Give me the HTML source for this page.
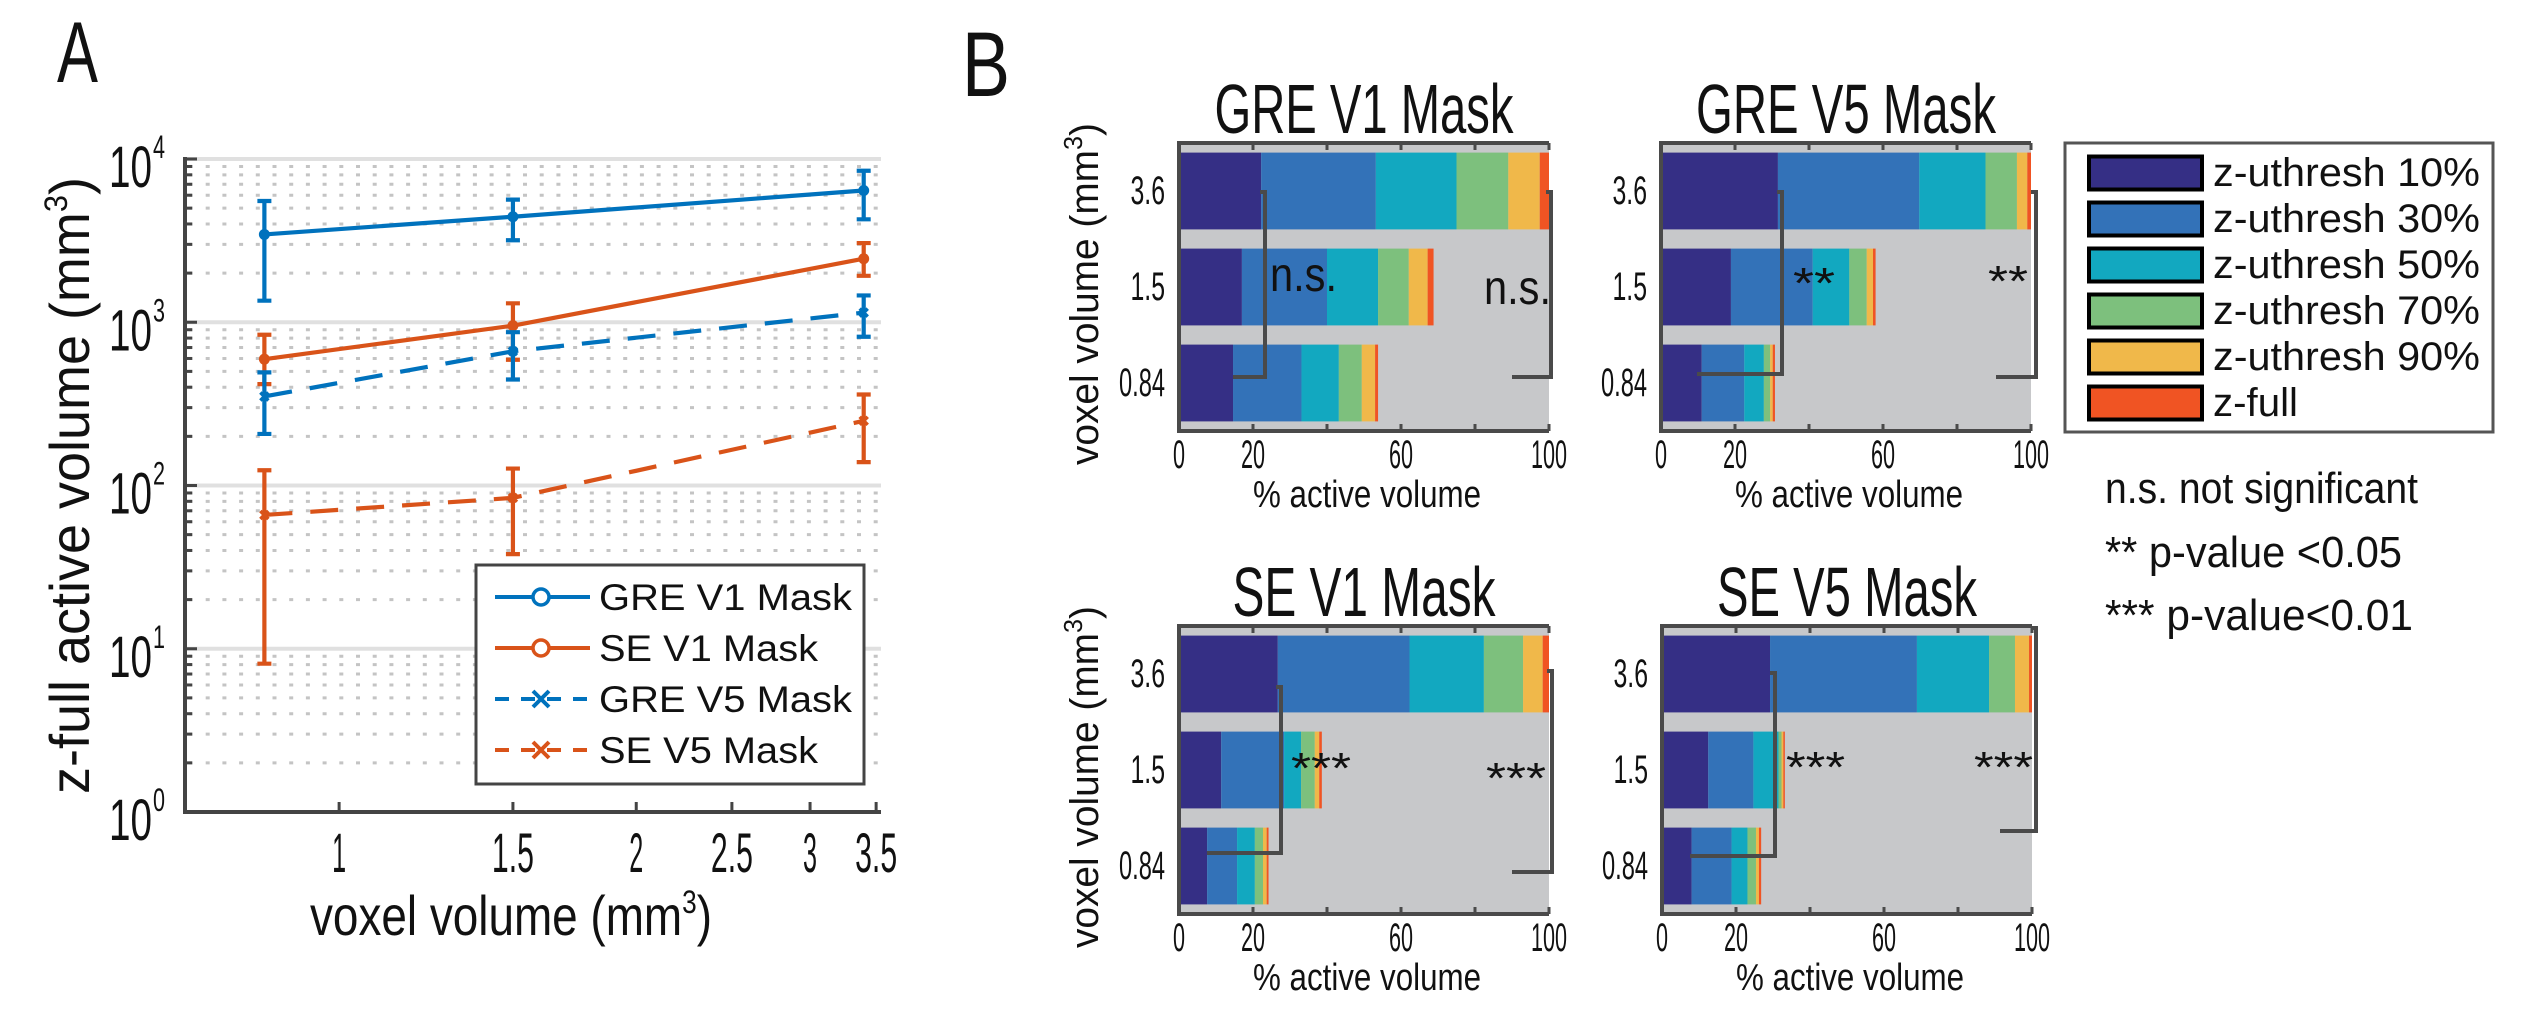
<!DOCTYPE html>
<html><head><meta charset="utf-8">
<style>
html,body{margin:0;padding:0;background:#fff;}
svg{display:block;}
text{font-family:"Liberation Sans",sans-serif;fill:#111;}
</style></head>
<body>
<svg id="fig" width="2521" height="1025" viewBox="0 0 2521 1025" xmlns="http://www.w3.org/2000/svg">
<g id="panelA"></g>
<g id="panelB"></g>
</svg>
<script>
// ---------- Panel A data ----------
const voxelSizes = [0.84, 1.5, 3.4];
const seriesNames = ["GRE V1 Mask", "SE V1 Mask", "GRE V5 Mask", "SE V5 Mask"];
const greV1 = [3450, 4430, 6410];
const greV1Hi = [5530, 5640, 8470];
const greV1Lo = [1355, 3180, 4270];
const seV1 = [594, 953, 2450];
const seV1Hi = [838, 1306, 3055];
const seV1Lo = [418, 589, 1925];
const greV5 = [351, 664, 1146];
const greV5Hi = [493, 869, 1460];
const greV5Lo = [207, 446, 815];
const seV5 = [66, 84, 249];
const seV5Hi = [124, 127, 361];
const seV5Lo = [8.1, 38, 139];
const xTickValues = [1, 1.5, 2, 2.5, 3, 3.5];
const xTickLabels = ["1", "1.5", "2", "2.5", "3", "3.5"];
const yTickExps = [0, 1, 2, 3, 4];

// ---------- Panel B data ----------
const voxelCategories = ["3.6", "1.5", "0.84"];
const segmentNames = ["z-uthresh 10%", "z-uthresh 30%", "z-uthresh 50%", "z-uthresh 70%", "z-uthresh 90%", "z-full"];
const pctTicks = [0, 20, 40, 60, 80, 100];
const pctTickLabels = ["0", "20", "", "60", "", "100"];
const greV1Segs = [[22.2, 31, 21.8, 14, 8.5, 2.5], [17, 23, 13.8, 8.3, 5.1, 1.6], [14.6, 18.5, 10.1, 6.2, 3.6, 0.8]];
const greV5Segs = [[31.6, 38.2, 17.9, 8.5, 2.8, 1.0], [18.9, 22.1, 9.9, 4.7, 1.7, 0.7], [11, 11.5, 5.3, 1.7, 0.7, 0.6]];
const seV1Segs = [[26.7, 35.6, 20.1, 10.6, 5.3, 1.7], [11.4, 17, 4.6, 3.7, 1.2, 0.7], [7.6, 8.1, 4.8, 2.2, 1.0, 0.5]];
const seV5Segs = [[29.2, 39.7, 19.5, 7.0, 3.8, 0.8], [12.5, 12.2, 6.8, 0.8, 0.5, 0.4], [8, 10.8, 4.3, 2.3, 0.8, 0.6]];
const sigInner = ["n.s.", "**", "***", "***"];
const sigOuter = ["n.s.", "**", "***", "***"];

const NS = "http://www.w3.org/2000/svg";
function mk(parent, tag, attrs, txt) {
  const e = document.createElementNS(NS, tag);
  for (const k in attrs) e.setAttribute(k, attrs[k]);
  if (txt !== undefined) e.textContent = txt;
  parent.appendChild(e);
  return e;
}

// ================= PANEL A =================
const A = document.getElementById('panelA');
const aL = 185, aR = 881, aT = 159, aB = 812;
const xLogMin = Math.log10(0.698), xLogMax = Math.log10(3.54);
function ax(v) { return aL + (Math.log10(v) - xLogMin) / (xLogMax - xLogMin) * (aR - aL); }
function ay(v) { return aB - Math.log10(v) / 4 * (aB - aT); }

let t = mk(A, 'text', {x: 57, y: 82, 'font-size': 86, textLength: 41, lengthAdjust: 'spacingAndGlyphs'}, 'A');
 

const grid = mk(A, 'g', {});
 
for (let e = 0; e < 4; e++) {
  for (let m = 2; m <= 9; m++) {
    const y = ay(m * Math.pow(10, e));
    const l = mk(grid, 'line', {x1: aL + 4, x2: aR, y1: y, y2: y, stroke: '#c4c4c4', 'stroke-width': 3, 'stroke-dasharray': '4 12.7'});
     
  }
}
yTickExps.forEach(e => {
  const y = ay(Math.pow(10, e));
  if (e > 0) {
    const l = mk(grid, 'line', {x1: aL, x2: aR, y1: y, y2: y, stroke: '#e0e0e0', 'stroke-width': 4});
     
  }
  const g = mk(A, 'g', {});
   
  mk(g, 'text', {x: 109, y: y + 28, 'font-size': 58, textLength: 43, lengthAdjust: 'spacingAndGlyphs'}, '10');
  mk(g, 'text', {x: 153, y: y - 1, 'font-size': 32, textLength: 12, lengthAdjust: 'spacingAndGlyphs'}, String(e));
  if (e < 4) for (let m = 2; m <= 9; m++) {
    const yy = ay(m * Math.pow(10, e));
    mk(A, 'line', {x1: aL, x2: aL + 7, y1: yy, y2: yy, stroke: '#444', 'stroke-width': 3});
  }
  mk(A, 'line', {x1: aL, x2: aL + 12, y1: y, y2: y, stroke: '#444', 'stroke-width': 3});
});
let axl = mk(A, 'path', {d: `M${aL},${aT - 2} V${aB} H${aR}`, fill: 'none', stroke: '#444', 'stroke-width': 4});
 
xTickValues.forEach((v, i) => {
  const x = ax(v);
  mk(A, 'line', {x1: x, x2: x, y1: aB, y2: aB - 10, stroke: '#444', 'stroke-width': 3});
  const tl = mk(A, 'text', {x: x, y: 872, 'font-size': 56, 'text-anchor': 'middle', textLength: xTickLabels[i].length * 14, lengthAdjust: 'spacingAndGlyphs'}, xTickLabels[i]);
   
});
let xt = mk(A, 'text', {x: 310, y: 935, 'font-size': 56, textLength: 402, lengthAdjust: 'spacingAndGlyphs'});
 
xt.innerHTML = 'voxel volume (mm<tspan dy="-22" font-size="32">3</tspan><tspan dy="22">)</tspan>';
let yt = mk(A, 'text', {x: 0, y: 0, 'font-size': 56, textLength: 617, lengthAdjust: 'spacingAndGlyphs', transform: 'translate(89,794) rotate(-90)'});
 
yt.innerHTML = 'z-full active volume (mm<tspan dy="-22" font-size="32">3</tspan><tspan dy="22">)</tspan>';

const blue = '#0072BD', orange = '#D95319';
const seriesDefs = [
  {v: greV1, hi: greV1Hi, lo: greV1Lo, c: blue, dash: null, mk: 'o', name: 'gre-v1'},
  {v: seV1, hi: seV1Hi, lo: seV1Lo, c: orange, dash: null, mk: 'o', name: 'se-v1'},
  {v: greV5, hi: greV5Hi, lo: greV5Lo, c: blue, dash: '28 18', mk: 'x', name: 'gre-v5'},
  {v: seV5, hi: seV5Hi, lo: seV5Lo, c: orange, dash: '28 18', mk: 'x', name: 'se-v5'}
];
seriesDefs.forEach(s => {
  const g = mk(A, 'g', {});
   
  const pts = voxelSizes.map((x, i) => ax(x) + ',' + ay(s.v[i])).join(' ');
  const pl = mk(g, 'polyline', {points: pts, fill: 'none', stroke: s.c, 'stroke-width': 4.2});
  if (s.dash) pl.setAttribute('stroke-dasharray', s.dash);
   
  voxelSizes.forEach((xv, i) => {
    const x = ax(xv), yh = ay(s.hi[i]), yl = ay(s.lo[i]), y = ay(s.v[i]);
    const eb = mk(g, 'path', {d: `M${x},${yh}V${yl}M${x - 7},${yh}H${x + 7}M${x - 7},${yl}H${x + 7}`, stroke: s.c, 'stroke-width': 4.2, fill: 'none'});
     
    let m;
    if (s.mk === 'o') m = mk(g, 'circle', {cx: x, cy: y, r: 5.5, fill: s.c});
    else m = mk(g, 'path', {d: `M${x - 4},${y - 4}L${x + 4},${y + 4}M${x - 4},${y + 4}L${x + 4},${y - 4}`, stroke: s.c, 'stroke-width': 3.5});
     
  });
});
const lg = mk(A, 'g', {});
 
mk(lg, 'rect', {x: 476, y: 565, width: 388, height: 219, fill: '#fff', stroke: '#444', 'stroke-width': 3});
seriesDefs.forEach((s, i) => {
  const y = 597 + i * 51;
  const e = mk(lg, 'g', {});
   
  const l = mk(e, 'line', {x1: 495, x2: 590, y1: y, y2: y, stroke: s.c, 'stroke-width': 4});
  if (s.dash) l.setAttribute('stroke-dasharray', '14 12');
  if (s.mk === 'o') mk(e, 'circle', {cx: 541, cy: y, r: 8, fill: '#fff', stroke: s.c, 'stroke-width': 3.5});
  else mk(e, 'path', {d: `M533,${y - 8}L549,${y + 8}M533,${y + 8}L549,${y - 8}`, stroke: s.c, 'stroke-width': 4});
  mk(e, 'text', {x: 599, y: y + 13, 'font-size': 37, textLength: seriesNames[i].length > 10 ? 253 : 219, lengthAdjust: 'spacingAndGlyphs'}, seriesNames[i]);
});

// ================= PANEL B =================
const B = document.getElementById('panelB');
let bl = mk(B, 'text', {x: 962, y: 96, 'font-size': 92, textLength: 48, lengthAdjust: 'spacingAndGlyphs'}, 'B');
 
const segColors = ['#352F85', '#3372B8', '#12A8C0', '#7DC07D', '#F0B84A', '#F05423'];
const panels = [
  {title: 'GRE V1 Mask', segs: greV1Segs, L: 1179, T: 143, tw: 299, ylab: true,
   inner: {x: 1265, y1: 192, y2: 377, x2: 1233, tx: 1270, ty: 291, tw: 67},
   outer: {x: 1551, y1: 192, y2: 377, x2: 1512, tx: 1484, ty: 304, tw: 67}, name: 'gre-v1'},
  {title: 'GRE V5 Mask', segs: greV5Segs, L: 1661, T: 143, tw: 300, ylab: false,
   inner: {x: 1782, y1: 192, y2: 374, x2: 1697, tx: 1793, ty: 298, tw: 42},
   outer: {x: 2036, y1: 192, y2: 377, x2: 1996, tx: 1988, ty: 296, tw: 40}, name: 'gre-v5'},
  {title: 'SE V1 Mask', segs: seV1Segs, L: 1179, T: 626, tw: 263, ylab: true,
   inner: {x: 1281, y1: 687, y2: 853, x2: 1207, tx: 1291, ty: 783, tw: 60},
   outer: {x: 1552, y1: 671, y2: 872, x2: 1512, tx: 1486, ty: 793, tw: 60}, name: 'se-v1'},
  {title: 'SE V5 Mask', segs: seV5Segs, L: 1662, T: 626, tw: 260, ylab: false,
   inner: {x: 1775, y1: 673, y2: 856, x2: 1690, tx: 1786, ty: 782, tw: 59},
   outer: {x: 2036, y1: 628, y2: 831, x2: 2000, tx: 1974, ty: 782, tw: 59}, name: 'se-v5'}
];
panels.forEach((p, pi) => {
  const W = 370, H = 288;
  const g = mk(B, 'g', {});
   
  const px = v => p.L + v / 100 * W;
  const band = H / 3;
  mk(g, 'rect', {x: p.L, y: p.T, width: W, height: H, fill: '#c7c8ca'});
  p.segs.forEach((row, ri) => {
    const y = p.T + band * ri + band * 0.1;
    let acc = 0;
    row.forEach((v, si) => {
      const r = mk(g, 'rect', {x: px(acc), y: y, width: v / 100 * W, height: band * 0.8, fill: segColors[si]});
       
      acc += v;
    });
    const lab = mk(g, 'text', {x: p.L - 14, y: p.T + band * ri + band / 2 + 13, 'font-size': 40, 'text-anchor': 'end', textLength: voxelCategories[ri].length * 11.5, lengthAdjust: 'spacingAndGlyphs'}, voxelCategories[ri]);
     
  });
  const fr = mk(g, 'path', {d: `M${p.L + W},${p.T} H${p.L} V${p.T + H} H${p.L + W}`, fill: 'none', stroke: '#4a4a4a', 'stroke-width': 4});
   
  pctTicks.forEach((v, i) => {
    const x = px(v);
    mk(g, 'line', {x1: x, x2: x, y1: p.T, y2: p.T + 7, stroke: '#4a4a4a', 'stroke-width': 3});
    mk(g, 'line', {x1: x, x2: x, y1: p.T + H, y2: p.T + H - 7, stroke: '#4a4a4a', 'stroke-width': 3});
    if (pctTickLabels[i]) {
      const tl = mk(g, 'text', {x: x, y: p.T + H + 37, 'font-size': 40, 'text-anchor': 'middle', textLength: pctTickLabels[i].length * 12, lengthAdjust: 'spacingAndGlyphs'}, pctTickLabels[i]);
       
    }
  });
  const xl = mk(g, 'text', {x: p.L + 74, y: p.T + H + 76, 'font-size': 38, textLength: 228, lengthAdjust: 'spacingAndGlyphs'}, '% active volume');
   
  const tt = mk(g, 'text', {x: p.L + W / 2, y: p.T - 10, 'font-size': 70, 'text-anchor': 'middle', textLength: p.tw, lengthAdjust: 'spacingAndGlyphs'}, p.title);
   
  if (p.ylab) {
    const yl = mk(g, 'text', {x: 0, y: 0, 'font-size': 40, textLength: 342, lengthAdjust: 'spacingAndGlyphs', transform: `translate(1098,${p.T + 322}) rotate(-90)`});
     
    yl.innerHTML = 'voxel volume (mm<tspan dy="-16" font-size="26">3</tspan><tspan dy="16">)</tspan>';
  }
  [['inner', sigInner[pi]], ['outer', sigOuter[pi]]].forEach(([k, lab]) => {
    const b = p[k];
    const br = mk(g, 'path', {d: `M${b.x - 5},${b.y1} H${b.x} V${b.y2} H${b.x2}`, fill: 'none', stroke: '#4a4a4a', 'stroke-width': 4});
     
    const st = mk(g, 'text', {x: b.tx, y: b.ty, 'font-size': lab === 'n.s.' ? 48 : 44, textLength: b.tw, lengthAdjust: 'spacingAndGlyphs'}, lab);
     
  });
});
const lb = mk(B, 'g', {});
 
mk(lb, 'rect', {x: 2065, y: 143, width: 428, height: 289, fill: '#fff', stroke: '#555', 'stroke-width': 3});
segmentNames.forEach((n, i) => {
  const y = 155 + i * 46;
  const e = mk(lb, 'g', {});
   
  mk(e, 'rect', {x: 2089, y: y + 1.5, width: 113, height: 33, fill: segColors[i], stroke: '#000', 'stroke-width': 4});
  mk(e, 'text', {x: 2213, y: y + 31, 'font-size': 40, textLength: n === 'z-full' ? 85 : 267, lengthAdjust: 'spacingAndGlyphs'}, n);
});
const notes = [['n.s. not significant', 503, 313], ['** p-value <0.05', 567, 297], ['*** p-value<0.01', 630, 308]];
notes.forEach(([s, y, w]) => {
  const n = mk(B, 'text', {x: 2105, y: y, 'font-size': 44, textLength: w, lengthAdjust: 'spacingAndGlyphs'}, s);
   
});
</script>
</body></html>
